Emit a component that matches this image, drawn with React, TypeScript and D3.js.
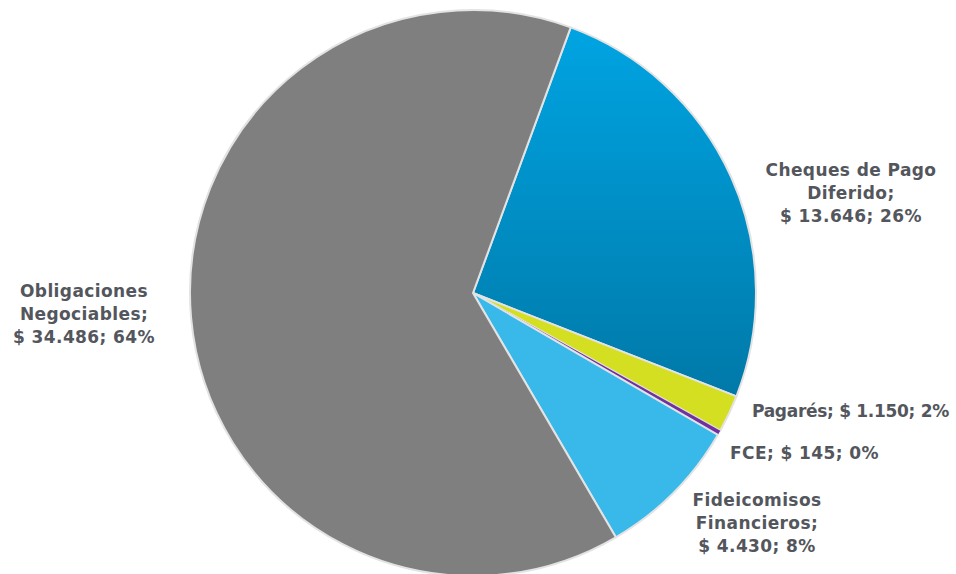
import React from "react";
import * as d3 from "d3";

const categories = ["Cheques de Pago Diferido", "Pagarés", "FCE", "Fideicomisos Financieros", "Obligaciones Negociables"];
const values = [13646, 1150, 145, 4430, 34486];
const colors = ["url(#chqGrad)", "#d4df22", "#7030a0", "#38b9ea", "#7f7f7f"];
const labelLines = [
  ["Cheques de Pago", "Diferido;", "$ 13.646; 26%"],
  ["Pagarés; $ 1.150; 2%"],
  ["FCE; $ 145; 0%"],
  ["Fideicomisos", "Financieros;", "$ 4.430; 8%"],
  ["Obligaciones", "Negociables;", "$ 34.486; 64%"],
];
const labelPos: [number, number, string, number][] = [
  [851, 176, "middle", 0.4],
  [752, 417, "start", -0.3],
  [730, 459, "start", 0.4],
  [757, 506, "middle", 0.4],
  [84, 297, "middle", 0.4],
];

export default function App() {
  const W = 956, H = 574;
  const cx = 473, cy = 293, r = 283;
  const start = (20.2 * Math.PI) / 180;
  const pie = d3.pie<number>().sort(null).value((d) => d).startAngle(start).endAngle(start + 2 * Math.PI);
  const arcs = pie(values);
  const arc = d3.arc<d3.PieArcDatum<number>>().innerRadius(0).outerRadius(r);
  return (
    <svg width={W} height={H} style={{ position: "absolute", left: 0, top: 0, background: "#fff" }}>
      <defs>
        <linearGradient id="chqGrad" x1="0" y1="0" x2="0" y2="1">
          <stop offset="0" stopColor="#00a4e2" />
          <stop offset="1" stopColor="#0079a8" />
        </linearGradient>
      </defs>
      <g transform={`translate(${cx},${cy})`}>
        {arcs.map((a, i) => (
          <path key={categories[i]} d={arc(a) || ""} fill={colors[i]} stroke="#e3e3e3" strokeWidth={i === 2 ? 0 : 2} strokeLinejoin="round" />
        ))}
      </g>
      {labelLines.map((lines, i) => (
        <text key={i} x={labelPos[i][0]} y={labelPos[i][1]} textAnchor={labelPos[i][2] as any}
          fontFamily="'DejaVu Sans', sans-serif" fontWeight="bold" fontSize={17} letterSpacing={labelPos[i][3]} fill="#53565c">
          {lines.map((l, j) => (
            <tspan key={j} x={labelPos[i][0]} dy={j === 0 ? 0 : 23}>{l}</tspan>
          ))}
        </text>
      ))}
    </svg>
  );
}
